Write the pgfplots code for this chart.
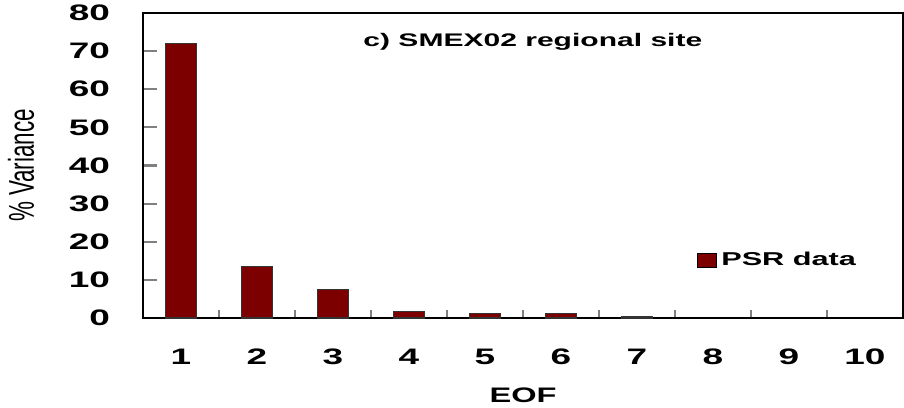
\documentclass[border=0pt]{standalone}
\usepackage{graphicx}
\usepackage{fontspec}
\setmainfont{Liberation Sans}
\usepackage{pgfplots}
\pgfplotsset{compat=1.18}
\definecolor{barred}{RGB}{124,0,0}
\begin{document}
\begin{tikzpicture}
\begin{axis}[
  scale only axis,
  width=380pt, height=152.5pt,
  xmin=0.5, xmax=10.5,
  ymin=0, ymax=80,
  axis line style={line width=1.1pt},
  tick align=inside,
  xtick={1,...,10},
  minor xtick={1.5,2.5,...,9.5},
  major x tick style={draw=none},
  minor x tick style={line width=1.1pt},
  minor tick length=4pt,
  ytick={0,10,...,80},
  major tick length=7pt,
  y tick style={line width=1.1pt},
  xtick pos=bottom, ytick pos=left,
  xticklabel={\scalebox{1.65}[1]{\pgfmathprintnumber{\tick}}},
  yticklabel={\scalebox{1.65}[1]{\pgfmathprintnumber{\tick}}},
  tick label style={font=\bfseries\fontsize{11.2}{11.2}\selectfont},
  /pgf/number format/assume math mode=true,
  xticklabel shift=12pt,
  yticklabel shift=13pt,
  xlabel={\scalebox{1.55}[1]{EOF}},
  xlabel style={font=\bfseries\fontsize{10.5}{10.5}\selectfont, at={(axis description cs:0.5,-0.252)}, anchor=center},
  ylabel={\scalebox{1}[1.6]{\% Variance}},
  ylabel style={font=\fontsize{11.2}{11.2}\selectfont, at={(axis description cs:-0.1605,0.5)}, anchor=center, rotate=0},
  legend style={at={(axis description cs:0.728,0.19)}, anchor=west, draw=none, fill=none,
    font=\bfseries\fontsize{9.3}{9.3}\selectfont, inner sep=0pt},
  legend image code/.code={\draw[#1, draw=black, line width=0.5pt] (0pt,-3.5pt) rectangle (9.8pt,3.5pt);},
]
\addplot[ybar, bar width=15.5pt, fill=barred, draw=black!80, line width=0.6pt]
  coordinates {(1,72.1) (2,13.5) (3,7.5) (4,1.8) (5,1.2) (6,1.2) (7,0.3)};
\addlegendentry{\scalebox{1.65}[1]{PSR data}}
\node[font=\bfseries\fontsize{9.1}{9.1}\selectfont] at (axis description cs:0.513,0.905) {\scalebox{1.65}[1]{c) SMEX02 regional site}};
\end{axis}
\pgfresetboundingbox
\useasboundingbox (-71.5pt,-44.5pt) rectangle (380.5pt,159pt);
\end{tikzpicture}
\end{document}
